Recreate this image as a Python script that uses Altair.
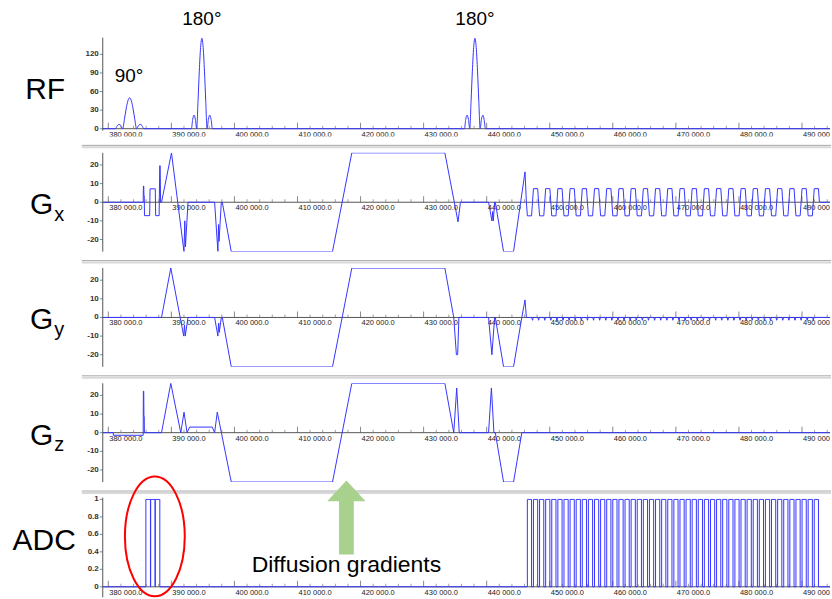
import altair as alt
import pandas as pd

# ---------------- data ----------------
X_MIN, X_MAX = 379120, 494444

# RF magnitude
rf_t = [379120,
        381130, 381417, 381705, 381992, 382280, 382555, 382830, 383105, 383380,
        383655, 383930, 384205, 384480, 384767, 385055, 385342, 385630,
        393170, 393382, 393595, 393807, 394020, 394225, 394430, 394635, 394840,
        395045, 395250, 395455, 395660, 395872, 396085, 396297, 396510,
        436470, 436682, 436895, 437107, 437320, 437525, 437730, 437935, 438140,
        438345, 438550, 438755, 438960, 439172, 439385, 439597, 439810,
        494444]
rf_v = [0,
        0, 5, 7, 5, 0, 15, 32, 45, 50,
        45, 32, 15, 0, 5, 7, 5, 0,
        0, 15, 22, 15, 0, 44, 93, 131, 146,
        131, 93, 44, 0, 15, 22, 15, 0,
        0, 15, 22, 15, 0, 44, 93, 131, 146,
        131, 93, 44, 0, 15, 22, 15, 0,
        0]

# Gx before the EPI readout
gx_t = [379120, 385530, 385570, 385620, 385650, 385700, 385740, 386560, 386620,
        387450, 387510, 388060, 388160, 388220, 388290, 388440, 390020, 392000,
        392130, 392230, 392640, 396860, 397380, 397480, 397560, 397920, 398075,
        399500, 415550, 418615, 433370, 435460, 435840, 440300, 440830, 440950,
        441050, 441260, 441370, 442680, 444260, 446080, 446300]
gx_v = [0, 0, 8.7, 8.7, 3.5, 3.5, -7.2, -7.2, 7.2,
        7.2, -7.2, -7.2, 19.6, 19.6, 0, 0, 26.5, -26.5,
        -10, -24, 0, 0, -26.5, -12, -21, 0, 0,
        -26.5, -26.5, 26.5, 26.5, -10.5, 0, 0, -10, -5,
        -10, 0, 0, -26.5, -26.5, 16.3, 0]

# Gy before the readout
gy_t = [379120, 388440, 389910, 391960, 392080, 392200, 392640, 396860, 397380,
        397500, 397600, 397920, 398075, 399500, 415550, 418615, 433370, 434780,
        435200, 435400, 435600, 440300, 440830, 441260, 441370, 442680, 444260,
        445570, 446080, 446300]
gy_v = [0, 0, 26.5, -10, -4, -10, 0, 0, -10,
        -3, -8, 0, 0, -26.5, -26.5, 26.5, 26.5, 0,
        -20, -20, 0, 0, -20, 0, 0, -26.5, -26.5,
        0, 9.4, 0]

# Gz
gz_t = [379120, 380790, 380800, 385530, 385560, 385620, 385650, 385700, 385720,
        388440, 389910, 391490, 392010, 392480, 392900, 396490, 396860, 397280,
        399500, 415550, 418615, 433370, 434780, 435250, 435650, 440300, 440750,
        441150, 441370, 442680, 444260, 445570, 494444]
gz_v = [0, 0, -1.4, -1.4, 22.3, 22.3, 8.7, 8.7, 0,
        0, 26.5, 0, 11, 0, 3, 3, 0, 11,
        -26.5, -26.5, 26.5, 26.5, 0, 24, 0, 0, 24,
        0, 0, -26.5, -26.5, 0, 0]

# EPI readout lobes (start times) and polarity
ro_start = [446300, 447268, 448236, 449204, 450172, 451140, 452108, 453076,
            454044, 455012, 455980, 456948, 457916, 458884, 459852, 460820,
            461788, 462756, 463724, 464692, 465660, 466628, 467596, 468564,
            469532, 470500, 471468, 472436, 473404, 474372, 475340, 476308,
            477276, 478244, 479212, 480180, 481148, 482116, 483084, 484052,
            485020, 485988, 486956, 487924, 488892, 489860, 490828, 491796]
ro_sign = [-1, 1, -1, 1, -1, 1, -1, 1, -1, 1, -1, 1, -1, 1, -1, 1,
           -1, 1, -1, 1, -1, 1, -1, 1, -1, 1, -1, 1, -1, 1, -1, 1,
           -1, 1, -1, 1, -1, 1, -1, 1, -1, 1, -1, 1, -1, 1, -1, 1]
RO_LEN, RO_RAMP, RO_AMP = 968, 150, 7.3
GY_BLIP = -1.5

# navigator ADC windows
nav_adc_on = [385960, 386720, 387450]
nav_adc_off = [386680, 387410, 388170]

# axis ticks
major_ticks = [380000, 390000, 400000, 410000, 420000, 430000,
               440000, 450000, 460000, 470000, 480000, 490000]
rf_yticks = [0, 30, 60, 90, 120]
g_yticks = [-20, -10, 0, 10, 20]
adc_yticks = [0, 0.2, 0.4, 0.6, 0.8, 1]

# ---------------- build tables ----------------
adc_t, adc_v = [X_MIN], [0]
for a, b in zip(nav_adc_on, nav_adc_off):
    adc_t += [a, a, b, b]
    adc_v += [0, 1, 1, 0]
gx_ro_t, gx_ro_v, gy_ro_t, gy_ro_v = [], [], [], []
for k, (s, sg) in enumerate(zip(ro_start, ro_sign)):
    gx_ro_t += [s + RO_RAMP, s + RO_LEN - RO_RAMP, s + RO_LEN]
    gx_ro_v += [sg * RO_AMP, sg * RO_AMP, 0]
    adc_t += [s + RO_RAMP, s + RO_RAMP, s + RO_LEN - RO_RAMP, s + RO_LEN - RO_RAMP]
    adc_v += [0, 1, 1, 0]
    if k > 0:
        gy_ro_t += [s - 120, s, s + 120]
        gy_ro_v += [0, GY_BLIP, 0]
adc_t.append(X_MAX)
adc_v.append(0)

gx_all_t = gx_t + gx_ro_t + [X_MAX]
gx_all_v = gx_v + gx_ro_v + [0]
gy_all_t = gy_t + gy_ro_t + [X_MAX]
gy_all_v = gy_v + gy_ro_v + [0]

# ---------------- styling / layout ----------------
FONT = "Liberation Sans"
BLUE = "#3535ff"
AXC = "#555555"
W, H = 729, 99
PLOT_LEFT = 102.7
ONE = pd.DataFrame({"a": [0]})

xs = alt.Scale(domain=[X_MIN, X_MAX], nice=False, zero=False)
tick_df = pd.DataFrame({"t": major_ticks,
                        "lab": [f"{m:,.1f}".replace(",", " ") for m in major_ticks]})
minor_df = pd.DataFrame({"t": [m for m in range(380000, X_MAX, 2000) if m % 10000]})


def txt(text, x, y, size, **kw):
    return alt.Chart(ONE).mark_text(text=text, fontSize=size, font=FONT,
                                    color="black", **kw).encode(
        x=alt.value(x), y=alt.value(y))


def panel(t, v, ydom, yvals, yspan, interp="linear", extras=(), sep=True):
    ys = alt.Scale(domain=ydom, nice=False, zero=False)
    df = pd.DataFrame({"t": t, "v": v, "i": list(range(len(t)))})
    ytick_df = pd.DataFrame({"v": yvals, "lab": [f"{y:g}" for y in yvals]})
    layers = []
    if sep:
        layers.append(alt.Chart(ONE).mark_rule(color="#a8a8a8", strokeWidth=1).encode(
            x=alt.value(-21), x2=alt.value(W + 1), y=alt.value(-7.5)))
        layers.append(alt.Chart(ONE).mark_rule(color="#d8d8d8", strokeWidth=2).encode(
            x=alt.value(-21), x2=alt.value(W + 1), y=alt.value(-5.5)))
    # x axis line at zero
    layers.append(alt.Chart(ONE).mark_rule(color=AXC, strokeWidth=1).encode(
        y=alt.datum(0, scale=ys, axis=None)))
    # y axis line
    layers.append(alt.Chart(ONE).mark_rule(color=AXC, strokeWidth=1).encode(
        x=alt.value(0), y=alt.datum(yspan[1], axis=None), y2=alt.datum(yspan[0])))
    # y ticks and labels
    layers.append(alt.Chart(ytick_df).mark_tick(orient="horizontal", size=3, thickness=1,
                                                color=AXC, xOffset=-1.5).encode(
        x=alt.value(0), y=alt.Y("v:Q", axis=None)))
    layers.append(alt.Chart(ytick_df).mark_text(align="right", baseline="middle", dx=-4,
                                                fontSize=8, font=FONT, fontWeight="bold",
                                                color="#333").encode(
        x=alt.value(0), y=alt.Y("v:Q", axis=None), text="lab:N"))
    # x ticks and labels along the zero line
    layers.append(alt.Chart(minor_df).mark_tick(orient="vertical", size=3, thickness=1,
                                                yOffset=-1.5, color="#777", clip=True).encode(
        x=alt.X("t:Q", scale=xs, axis=None), y=alt.datum(0, axis=None)))
    layers.append(alt.Chart(tick_df).mark_tick(orient="vertical", size=6, thickness=1,
                                               yOffset=-3, color=AXC, clip=True).encode(
        x=alt.X("t:Q", scale=xs, axis=None), y=alt.datum(0, axis=None)))
    layers.append(alt.Chart(tick_df).mark_text(align="left", baseline="top", dx=1, dy=2,
                                               fontSize=7.5, font=FONT, color="#222",
                                               clip=True).encode(
        x=alt.X("t:Q", scale=xs, axis=None), y=alt.datum(0, axis=None), text="lab:N"))
    # waveform
    layers.append(alt.Chart(df).mark_line(color=BLUE, strokeWidth=1, interpolate=interp,
                                          clip=True).encode(
        x=alt.X("t:Q", scale=xs, axis=None),
        y=alt.Y("v:Q", scale=ys, axis=None),
        order="i:Q"))
    layers += list(extras)
    return alt.layer(*layers).properties(width=W, height=H)


# left-hand channel names
def glabel(sub):
    return [txt("G", 41.5 - PLOT_LEFT, 52.5, 30, align="center", baseline="middle"),
            txt(sub, 59 - PLOT_LEFT, 62, 20, align="center", baseline="middle")]


rf_extras = [
    txt("RF", 45 - PLOT_LEFT, 53, 30, align="center", baseline="middle"),
    alt.Chart(ONE).mark_text(text="90°", fontSize=19, font=FONT, color="black").encode(
        x=alt.datum(383300, scale=xs, axis=None), y=alt.value(38)),
    alt.Chart(ONE).mark_text(text="180°", fontSize=19, font=FONT, color="black").encode(
        x=alt.datum(394840, scale=xs, axis=None), y=alt.value(-19)),
    alt.Chart(ONE).mark_text(text="180°", fontSize=19, font=FONT, color="black").encode(
        x=alt.datum(438140, scale=xs, axis=None), y=alt.value(-19)),
    alt.Chart(ONE).mark_rect(opacity=0).encode(
        x=alt.value(-PLOT_LEFT), x2=alt.value(W), y=alt.value(-37), y2=alt.value(-36)),
]

ELLIPSE = "M 0 -1 A 0.5 1 0 1 1 0 1 A 0.5 1 0 1 1 0 -1 Z"
ARROW = ("M 0 -1 L 0.52 -0.44 L 0.2 -0.44 L 0.2 1 L -0.2 1 L -0.2 -0.44 "
         "L -0.52 -0.44 Z")

adc_extras = [
    txt("ADC", 44 - PLOT_LEFT, 42.5, 30, align="center", baseline="middle"),
    alt.Chart(ONE).mark_point(shape=ELLIPSE, size=(2 * 60) ** 2, filled=False,
                              color="#ff0000", strokeWidth=2, opacity=1).encode(
        x=alt.datum(387380, scale=xs, axis=None), y=alt.value(38)),
    alt.Chart(ONE).mark_point(shape=ARROW, size=(2 * 37) ** 2, filled=True,
                              color="#a9d18e", opacity=1, strokeWidth=0).encode(
        x=alt.datum(417760, scale=xs, axis=None), y=alt.value(19)),
    alt.Chart(ONE).mark_text(text="Diffusion gradients", fontSize=23, font=FONT,
                             color="black").encode(
        x=alt.datum(417760, scale=xs, axis=None), y=alt.value(67)),
    alt.Chart(ONE).mark_rect(opacity=0).encode(
        x=alt.value(-PLOT_LEFT), x2=alt.value(W), y=alt.value(99), y2=alt.value(100)),
]

rf = panel(rf_t, rf_v, [-12.4, 147], rf_yticks, [-3, 147],
           interp="monotone", extras=rf_extras, sep=False)
gx = panel(gx_all_t, gx_all_v, [-26.5, 26.5], g_yticks, [-26.5, 26.5],
           extras=glabel("x"))
gy = panel(gy_all_t, gy_all_v, [-26.5, 26.5], g_yticks, [-26.5, 26.5],
           extras=glabel("y"))
gz = panel(gz_t, gz_v, [-26.5, 26.5], g_yticks, [-26.5, 26.5],
           extras=glabel("z"))
adc = panel(adc_t, adc_v, [-0.12, 1.01], adc_yticks, [-0.12, 1.02],
            extras=adc_extras)

chart = alt.vconcat(rf, gx, gy, gz, adc, spacing=16.5, bounds="flush").properties(
    padding=0, background="white"
).configure_view(stroke=None)

chart.save("out.html", embed_options={"renderer": "svg", "actions": False})
